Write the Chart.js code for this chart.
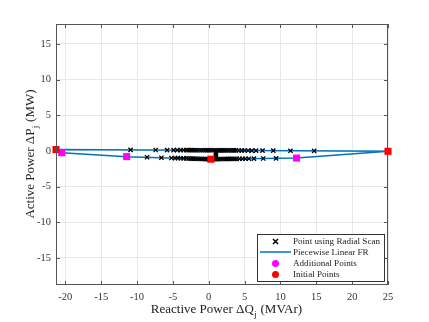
<!DOCTYPE html>
<html>
<head>
<meta charset="utf-8">
<script src="https://cdn.jsdelivr.net/npm/chart.js@4"></script>
<style>
  body { margin: 0; background: #fff; }
  canvas { display: block; }
</style>
</head>
<body>
<canvas id="frChart" width="429" height="322"></canvas>
<script>
// reactive power (MVAr) / active power (MW)
const initialQ = [-21.3, 0.3, 25];
const initialP = [0.2, -1.16, -0.05];

const additionalQ = [-20.5, -11.45, 12.25];
const additionalP = [-0.25, -0.8, -1.0];

// piecewise linear FR polygon
const frQ = [-21.3, 25, 12.25, 0.3, -11.45, -20.5, -21.3];
const frP = [0.2, -0.05, -1.0, -1.16, -0.8, -0.25, 0.2];

// radial scan points, upper row then lower row then a few in the middle
const scanQ = [-10.9, -7.4, -5.8, -4.9, -4.4, -3.9, -3.5, -3.1, -2.8, -2.5, -2.2, -1.9, -1.6, -1.3, -1.0, -0.7, -0.4, -0.1,
  0.2, 0.5, 0.8, 1.1, 1.4, 1.7, 2.0, 2.3, 2.6, 2.9, 3.2, 3.5, 3.8, 4.2, 4.6, 5.0, 5.5, 6.0, 6.6, 7.5, 9.0, 11.4, 14.7,
  -8.6, -6.6, -5.2, -4.7, -4.3, -3.9, -3.5, -3.1, -2.8, -2.5, -2.2, -1.9, -1.6, -1.3, -1.0, -0.7, -0.4, -0.1,
  0.6, 0.9, 1.2, 1.5, 1.8, 2.1, 2.4, 2.7, 3.0, 3.3, 3.6, 3.9, 4.3, 4.7, 5.1, 5.6, 6.3, 7.6, 9.4,
  1.0, 1.0, 1.0];
const scanP = [0.15, 0.13, 0.12, 0.12, 0.12, 0.11, 0.11, 0.11, 0.11, 0.11, 0.1, 0.1, 0.1, 0.1, 0.1, 0.1, 0.09, 0.09,
  0.09, 0.09, 0.09, 0.08, 0.08, 0.08, 0.08, 0.08, 0.07, 0.07, 0.07, 0.07, 0.07, 0.06, 0.06, 0.06, 0.06, 0.05, 0.05, 0.04, 0.04, 0.02, 0.0,
  -0.89, -0.95, -0.99, -1.0, -1.01, -1.03, -1.04, -1.05, -1.06, -1.07, -1.08, -1.09, -1.1, -1.11, -1.12, -1.13, -1.14, -1.15,
  -1.15, -1.14, -1.14, -1.14, -1.13, -1.13, -1.13, -1.12, -1.12, -1.12, -1.11, -1.11, -1.1, -1.1, -1.09, -1.09, -1.08, -1.06, -1.04,
  -0.3, -0.55, -0.8];

const xTicks = [-20, -15, -10, -5, 0, 5, 10, 15, 20, 25];
const yTicks = [-15, -10, -5, 0, 5, 10, 15];

const legendLabels = ['Point using Radial Scan', 'Piecewise Linear FR', 'Additional Points', 'Initial Points'];

const lineBlue = '#0072bd';
const serif = '"Liberation Serif", "Times New Roman", serif';

function toPoints(xs, ys) {
  return xs.map((x, i) => ({ x: x, y: ys[i] }));
}

// box with inward ticks, axis titles with subscripts, legend
const matlabLook = {
  id: 'matlabLook',
  afterDatasetsDraw(chart) {
    const ctx = chart.ctx;
    const a = chart.chartArea;
    const xs = chart.scales.x;
    const ys = chart.scales.y;
    ctx.save();
    ctx.strokeStyle = '#555';
    ctx.lineWidth = 1;
    ctx.strokeRect(a.left + 0.5, a.top + 0.5, a.right - a.left - 1, a.bottom - a.top - 1);
    ctx.beginPath();
    xTicks.forEach(t => {
      const px = Math.round(xs.getPixelForValue(t)) + 0.5;
      ctx.moveTo(px, a.bottom); ctx.lineTo(px, a.bottom - 4);
      ctx.moveTo(px, a.top); ctx.lineTo(px, a.top + 4);
    });
    yTicks.forEach(t => {
      const py = Math.round(ys.getPixelForValue(t)) + 0.5;
      ctx.moveTo(a.left, py); ctx.lineTo(a.left + 4, py);
      ctx.moveTo(a.right, py); ctx.lineTo(a.right - 4, py);
    });
    ctx.stroke();

    // legend
    const lx = 257, ly = 234, lw = 127, lh = 47;
    ctx.fillStyle = '#fff';
    ctx.fillRect(lx, ly, lw, lh);
    ctx.strokeStyle = '#333';
    ctx.strokeRect(lx + 0.5, ly + 0.5, lw, lh);
    ctx.font = '10px ' + serif;
    const fit = 10 * 87 / ctx.measureText(legendLabels[0]).width;
    ctx.font = fit.toFixed(2) + 'px ' + serif;
    ctx.textBaseline = 'middle';
    ctx.textAlign = 'left';
    const rows = [241.5, 252, 263.5, 274.5];
    const sx = 275.5;
    rows.forEach((ry, i) => {
      if (i === 0) {
        ctx.strokeStyle = '#000';
        ctx.lineWidth = 1.5;
        ctx.beginPath();
        ctx.moveTo(sx - 2.5, ry - 2.5); ctx.lineTo(sx + 2.5, ry + 2.5);
        ctx.moveTo(sx + 2.5, ry - 2.5); ctx.lineTo(sx - 2.5, ry + 2.5);
        ctx.stroke();
      } else if (i === 1) {
        ctx.strokeStyle = lineBlue;
        ctx.lineWidth = 1.5;
        ctx.beginPath();
        ctx.moveTo(260, ry); ctx.lineTo(291, ry);
        ctx.stroke();
      } else {
        ctx.fillStyle = i === 2 ? '#ff00ff' : '#ff0000';
        ctx.beginPath();
        ctx.arc(sx, ry, 3.5, 0, Math.PI * 2);
        ctx.fill();
      }
      ctx.fillStyle = '#222';
      ctx.fillText(legendLabels[i], 293, ry + 0.5);
    });

    // axis titles
    ctx.fillStyle = '#222';
    drawSubTitle(ctx, 'Reactive Power \u0394Q', 'j', ' (MVAr)', (a.left + a.right) / 2 + 4, 309, 0);
    drawSubTitle(ctx, 'Active Power \u0394P', 'j', ' (MW)', 30, (a.top + a.bottom) / 2, -Math.PI / 2);
    ctx.restore();
  }
};

function drawSubTitle(ctx, pre, sub, post, cx, cy, rot) {
  const big = '13px ' + serif;
  const small = '9px ' + serif;
  ctx.save();
  ctx.translate(cx, cy);
  ctx.rotate(rot);
  ctx.textBaseline = 'alphabetic';
  ctx.textAlign = 'left';
  ctx.font = big;
  const w1 = ctx.measureText(pre).width;
  const w3 = ctx.measureText(post).width;
  ctx.font = small;
  const w2 = ctx.measureText(sub).width;
  let x = -(w1 + w2 + w3) / 2;
  ctx.font = big;
  ctx.fillText(pre, x, 4);
  x += w1;
  ctx.font = small;
  ctx.fillText(sub, x + 0.5, 8);
  x += w2 + 1;
  ctx.font = big;
  ctx.fillText(post, x, 4);
  ctx.restore();
}

new Chart(document.getElementById('frChart'), {
  type: 'scatter',
  data: {
    datasets: [
      {
        label: 'Initial Points',
        data: toPoints(initialQ, initialP),
        pointStyle: 'rect',
        pointRadius: 5,
        backgroundColor: '#ff0000',
        borderColor: '#ff0000',
        borderWidth: 0,
        clip: false,
        order: 0
      },
      {
        label: 'Additional Points',
        data: toPoints(additionalQ, additionalP),
        pointStyle: 'rect',
        pointRadius: 5,
        backgroundColor: '#ff00ff',
        borderColor: '#ff00ff',
        borderWidth: 0,
        clip: false,
        order: 1
      },
      {
        label: 'Point using Radial Scan',
        data: toPoints(scanQ, scanP),
        pointStyle: 'crossRot',
        pointRadius: 3,
        borderColor: '#000',
        borderWidth: 1.3,
        clip: false,
        order: 2
      },
      {
        label: 'Piecewise Linear FR',
        data: toPoints(frQ, frP),
        showLine: true,
        pointRadius: 0,
        borderColor: lineBlue,
        borderWidth: 1.5,
        clip: false,
        order: 3
      }
    ]
  },
  options: {
    responsive: false,
    animation: false,
    layout: { padding: { top: 24, right: 41, left: 0, bottom: 0 } },
    plugins: {
      legend: { display: false },
      tooltip: { enabled: false }
    },
    scales: {
      x: {
        type: 'linear',
        min: -21.3,
        max: 25,
        afterFit(scale) { scale.height = 37; },
        afterBuildTicks(scale) { scale.ticks = xTicks.map(v => ({ value: v })); },
        grid: { color: '#e8e8e8', drawTicks: false },
        border: { display: false },
        ticks: { padding: 6, color: '#333', font: { family: serif, size: 10.5 }, maxRotation: 0 }
      },
      y: {
        type: 'linear',
        min: -18.8,
        max: 17.8,
        afterFit(scale) { scale.width = 56; },
        afterBuildTicks(scale) { scale.ticks = yTicks.map(v => ({ value: v })); },
        grid: { color: '#e8e8e8', drawTicks: false },
        border: { display: false },
        ticks: { padding: 5, color: '#333', font: { family: serif, size: 10.5 } }
      }
    }
  },
  plugins: [matlabLook]
});
</script>
</body>
</html>
